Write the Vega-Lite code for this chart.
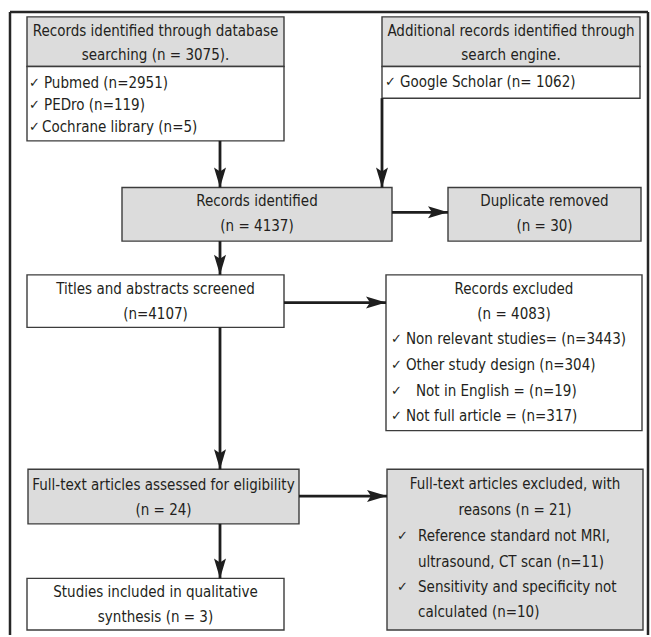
{
  "$schema": "https://vega.github.io/schema/vega-lite/v6.json",
  "width": 651,
  "height": 637,
  "padding": 0,
  "autosize": {"type": "fit", "contains": "padding"},
  "config": {"view": {"stroke": null}},
  "datasets": {
    "boxes": [
      {"id": "A1", "x": 27, "x2": 284, "y": 17, "y2": 67, "kind": "grey"},
      {"id": "A2", "x": 27, "x2": 284, "y": 67, "y2": 142, "kind": "white"},
      {"id": "B1", "x": 382, "x2": 640, "y": 17, "y2": 67, "kind": "grey"},
      {"id": "B2", "x": 382, "x2": 640, "y": 67, "y2": 99, "kind": "white"},
      {"id": "C", "x": 122, "x2": 392, "y": 189, "y2": 243, "kind": "grey"},
      {"id": "D", "x": 448, "x2": 641, "y": 189, "y2": 243, "kind": "grey"},
      {"id": "E", "x": 27, "x2": 284, "y": 277, "y2": 330, "kind": "white"},
      {"id": "F", "x": 386, "x2": 642, "y": 277, "y2": 434, "kind": "white"},
      {"id": "G", "x": 28, "x2": 299, "y": 473, "y2": 528, "kind": "grey"},
      {"id": "H", "x": 387, "x2": 643, "y": 473, "y2": 635, "kind": "grey"},
      {"id": "I", "x": 27, "x2": 284, "y": 583, "y2": 635, "kind": "white"}
    ],
    "frame": [
      {"x": 10, "y": 12, "x2": 10, "y2": 640},
      {"x": 10, "y": 12, "x2": 648, "y2": 12},
      {"x": 648, "y": 12, "x2": 648, "y2": 640}
    ],
    "arrows": [
      {"x": 220, "y": 142, "x2": 220, "y2": 189, "dir": "down"},
      {"x": 382, "y": 99, "x2": 382, "y2": 189, "dir": "down"},
      {"x": 392, "y": 214, "x2": 448, "y2": 214, "dir": "right"},
      {"x": 220, "y": 243, "x2": 220, "y2": 277, "dir": "down"},
      {"x": 284, "y": 305, "x2": 386, "y2": 305, "dir": "right"},
      {"x": 220, "y": 330, "x2": 220, "y2": 473, "dir": "down"},
      {"x": 299, "y": 500, "x2": 387, "y2": 500, "dir": "right"},
      {"x": 220, "y": 528, "x2": 220, "y2": 583, "dir": "down"}
    ],
    "centered": [
      {"x": 155.5, "y": 31, "text": "Records identified through database"},
      {"x": 155.5, "y": 55, "text": "searching (n = 3075)."},
      {"x": 511, "y": 31, "text": "Additional records identified through"},
      {"x": 511, "y": 55, "text": "search engine."},
      {"x": 257, "y": 203, "text": "Records identified"},
      {"x": 257, "y": 228, "text": "(n = 4137)"},
      {"x": 544.5, "y": 203, "text": "Duplicate removed"},
      {"x": 544.5, "y": 228, "text": "(n = 30)"},
      {"x": 155.5, "y": 291, "text": "Titles and abstracts screened"},
      {"x": 155.5, "y": 316, "text": "(n=4107)"},
      {"x": 514, "y": 291, "text": "Records excluded"},
      {"x": 514, "y": 316, "text": "(n = 4083)"},
      {"x": 163.5, "y": 489, "text": "Full-text articles assessed for eligibility"},
      {"x": 163.5, "y": 514, "text": "(n = 24)"},
      {"x": 515, "y": 488, "text": "Full-text articles excluded, with"},
      {"x": 515, "y": 514, "text": "reasons (n = 21)"},
      {"x": 155.5, "y": 597, "text": "Studies included in qualitative"},
      {"x": 155.5, "y": 622, "text": "synthesis (n = 3)"}
    ],
    "lefttext": [
      {"x": 44, "y": 84, "text": "Pubmed (n=2951)"},
      {"x": 44, "y": 106, "text": "PEDro (n=119)"},
      {"x": 42, "y": 128, "text": "Cochrane library (n=5)"},
      {"x": 400, "y": 83, "text": "Google Scholar (n= 1062)"},
      {"x": 406, "y": 342, "text": "Non relevant studies= (n=3443)"},
      {"x": 406, "y": 368, "text": "Other study design (n=304)"},
      {"x": 416, "y": 394, "text": "Not in English = (n=19)"},
      {"x": 406, "y": 419, "text": "Not full article = (n=317)"},
      {"x": 418, "y": 540, "text": "Reference standard not MRI,"},
      {"x": 418, "y": 566, "text": "ultrasound, CT scan (n=11)"},
      {"x": 418, "y": 592, "text": "Sensitivity and specificity not"},
      {"x": 418, "y": 617, "text": "calculated (n=10)"}
    ],
    "checks": [
      {"x": 29, "y": 84}, {"x": 29, "y": 106}, {"x": 29, "y": 128},
      {"x": 385, "y": 83},
      {"x": 391, "y": 342}, {"x": 391, "y": 368}, {"x": 391, "y": 394}, {"x": 391, "y": 419},
      {"x": 397, "y": 540}, {"x": 397, "y": 592}
    ]
  },
  "layer": [
    {
      "data": {"name": "boxes"},
      "mark": {"type": "rect", "stroke": "#3c3c3c", "strokeWidth": 1.4},
      "encoding": {
        "x": {"field": "x", "type": "quantitative", "scale": {"domain": [0, 651], "nice": false, "zero": false}, "axis": null},
        "x2": {"field": "x2"},
        "y": {"field": "y", "type": "quantitative", "scale": {"domain": [0, 637], "nice": false, "zero": false, "reverse": true}, "axis": null},
        "y2": {"field": "y2"},
        "fill": {"field": "kind", "type": "nominal", "scale": {"domain": ["grey", "white"], "range": ["#dcdcdc", "#ffffff"]}, "legend": null}
      }
    },
    {
      "data": {"name": "frame"},
      "mark": {"type": "rule", "color": "#262626", "strokeWidth": 2.5},
      "encoding": {
        "x": {"field": "x", "type": "quantitative"},
        "x2": {"field": "x2"},
        "y": {"field": "y", "type": "quantitative"},
        "y2": {"field": "y2"}
      }
    },
    {
      "data": {"name": "arrows"},
      "mark": {"type": "rule", "color": "#1e1e1e", "strokeWidth": 2.8},
      "encoding": {
        "x": {"field": "x", "type": "quantitative"},
        "x2": {"field": "x2"},
        "y": {"field": "y", "type": "quantitative"},
        "y2": {"field": "y2"}
      }
    },
    {
      "data": {"name": "arrows"},
      "mark": {"type": "point", "filled": true, "color": "#1e1e1e", "opacity": 1, "shape": "M0,0 L-0.6,-2 L0,-1.6 L0.6,-2 Z", "size": 400},
      "encoding": {
        "x": {"field": "x2", "type": "quantitative"},
        "y": {"field": "y2", "type": "quantitative"},
        "angle": {"field": "dir", "type": "nominal", "scale": {"domain": ["down", "right"], "range": [0, 270]}, "legend": null}
      }
    },
    {
      "data": {"name": "centered"},
      "mark": {"type": "text", "align": "center", "baseline": "middle", "font": "'DejaVu Sans Condensed', 'Liberation Sans Narrow', 'Noto Sans', sans-serif", "fontSize": 15, "color": "#231f20"},
      "encoding": {
        "x": {"field": "x", "type": "quantitative"},
        "y": {"field": "y", "type": "quantitative"},
        "text": {"field": "text", "type": "nominal"}
      }
    },
    {
      "data": {"name": "lefttext"},
      "mark": {"type": "text", "align": "left", "baseline": "middle", "font": "'DejaVu Sans Condensed', 'Liberation Sans Narrow', 'Noto Sans', sans-serif", "fontSize": 15, "color": "#231f20"},
      "encoding": {
        "x": {"field": "x", "type": "quantitative"},
        "y": {"field": "y", "type": "quantitative"},
        "text": {"field": "text", "type": "nominal"}
      }
    },
    {
      "data": {"name": "checks"},
      "mark": {"type": "text", "align": "left", "baseline": "middle", "font": "DejaVu Sans", "fontSize": 13, "color": "#231f20", "text": "✓"},
      "encoding": {
        "x": {"field": "x", "type": "quantitative"},
        "y": {"field": "y", "type": "quantitative"}
      }
    }
  ]
}
